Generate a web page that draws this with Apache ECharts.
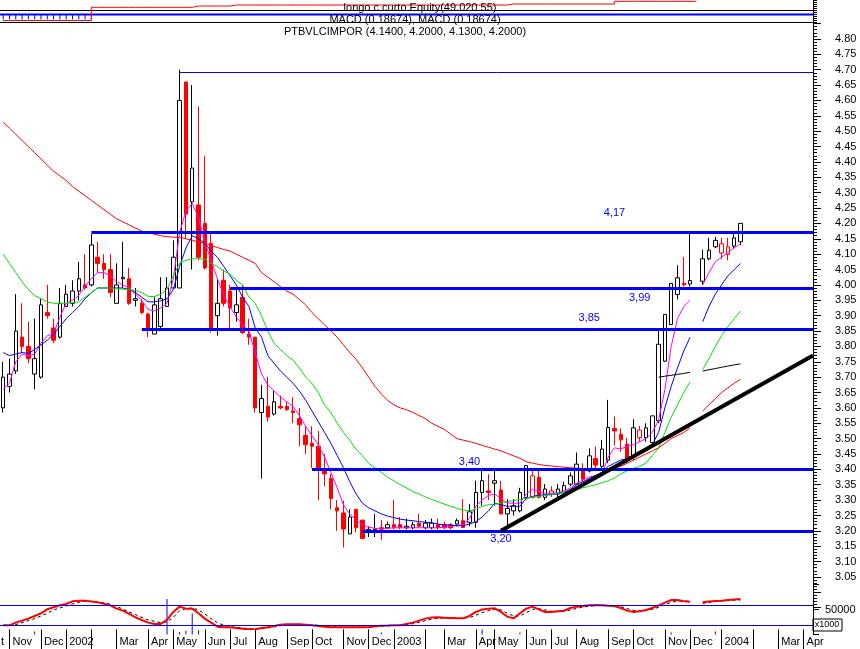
<!DOCTYPE html>
<html>
<head>
<meta charset="utf-8">
<title>PTBVLCIMPOR</title>
<script src="https://cdn.jsdelivr.net/npm/echarts@6/dist/echarts.min.js"></script>
<style>
html,body{margin:0;padding:0;background:#ffffff;}
#chart{width:860px;height:649px;}
</style>
</head>
<body>
<div id="chart"></div>
<script>
// ---------- data ----------
const firstWeek = '2001-10-26';
const slotCount = 129;

const opens = [3.60,3.67,3.72,3.83,3.80,3.71,3.70,3.91,3.86,3.83,
3.93,3.94,3.98,4.00,4.00,4.09,4.07,4.05,3.94,4.02,
4.02,3.95,3.94,3.905,3.84,3.865,3.93,3.99,3.99,4.66,
4.27,4.26,4.20,4.135,3.90,4.015,3.98,3.91,3.96,3.84,
3.83,3.585,3.605,3.58,3.605,3.605,3.59,3.565,3.51,3.485,
3.475,3.40,3.37,3.275,3.258,3.19,3.27,3.235,3.20,3.20,
3.21,3.21,3.22,3.22,3.21,3.21,3.225,3.21,3.21,3.22,
3.22,3.22,3.222,3.233,3.228,3.228,3.325,3.33,3.355,3.333,
3.255,3.265,3.265,3.309,3.309,3.374,3.309,3.32,3.32,3.325,
3.352,3.352,3.395,3.395,3.435,3.41,3.43,3.533,3.514,3.482,
3.44,3.503,3.503,3.487,3.558,3.752,3.871,3.969,4.005,4.003,
null,4.012,4.085,4.124,4.104,4.099,4.126,4.14];

const closes = [3.70,3.71,3.85,3.80,3.76,3.76,3.935,3.90,3.82,3.94,
3.97,3.98,4.02,3.99,4.13,4.07,4.05,3.975,4.00,4.025,
3.94,3.955,3.91,3.855,3.935,3.955,3.99,4.09,4.60,4.23,
4.38,4.09,4.055,3.86,3.94,3.94,3.925,3.935,3.845,3.83,
3.60,3.63,3.57,3.62,3.60,3.595,3.585,3.545,3.48,3.475,
3.40,3.385,3.305,3.265,3.206,3.245,3.21,3.175,3.205,3.205,
3.205,3.22,3.21,3.21,3.215,3.22,3.215,3.225,3.225,3.21,
3.21,3.21,3.233,3.211,3.262,3.325,3.363,3.325,3.363,3.255,
3.273,3.282,3.325,3.412,3.379,3.309,3.336,3.33,3.336,3.347,
3.379,3.417,3.368,3.444,3.414,3.466,3.536,3.525,3.496,3.433,
3.535,3.528,3.535,3.574,3.807,3.904,4.005,4.023,4.00,4.014,
null,4.085,4.113,4.145,4.134,4.124,4.153,4.20];

const lows = [3.585,3.65,3.71,3.78,3.745,3.66,3.695,3.89,3.81,3.825,
3.93,3.93,3.95,3.985,3.995,4.04,4.02,3.96,3.94,3.99,
3.935,3.93,3.905,3.83,3.84,3.86,3.93,3.99,3.99,4.15,
4.05,4.08,4.05,3.845,3.835,3.93,3.855,3.88,3.84,3.805,
3.585,3.37,3.555,3.575,3.595,3.59,3.55,3.475,3.45,3.405,
3.30,3.345,3.27,3.20,3.146,3.19,3.195,3.175,3.18,3.18,
3.17,3.205,3.205,3.205,3.205,3.205,3.21,3.205,3.205,3.20,
3.205,3.205,3.215,3.21,3.215,3.21,3.282,3.30,3.282,3.255,
3.206,3.25,3.26,3.305,3.305,3.305,3.30,3.31,3.31,3.32,
3.345,3.35,3.36,3.39,3.40,3.40,3.42,3.478,3.457,3.42,
3.43,3.49,3.49,3.48,3.55,3.75,3.87,3.953,3.995,3.995,
null,4.00,4.08,4.12,4.085,4.08,4.12,4.13];

const highs = [3.75,3.76,3.97,3.94,3.88,3.89,3.955,4.00,3.89,3.99,
4.00,4.015,4.075,4.10,4.165,4.14,4.10,4.10,4.07,4.14,
4.055,3.99,3.955,3.91,3.96,4.025,4.025,4.145,4.70,4.66,
4.65,4.58,4.42,4.17,4.02,4.05,4.00,3.985,4.00,3.89,
3.83,3.675,3.70,3.655,3.64,3.62,3.635,3.60,3.54,3.54,
3.525,3.45,3.385,3.30,3.298,3.27,3.27,3.235,3.215,3.255,
3.235,3.23,3.30,3.245,3.24,3.23,3.255,3.235,3.24,3.24,
3.23,3.225,3.24,3.303,3.287,3.363,3.40,3.384,3.395,3.363,
3.303,3.303,3.34,3.414,3.40,3.395,3.352,3.345,3.352,3.36,
3.39,3.455,3.42,3.468,3.474,3.496,3.626,3.572,3.533,3.503,
3.563,3.541,3.55,3.574,3.85,3.904,4.005,4.064,4.091,4.169,
null,4.115,4.153,4.156,4.153,4.153,4.169,4.20];

const maShort = [3.66,3.68,3.75,3.775,3.77,3.775,3.81,3.835,3.84,3.895,
3.94,3.95,3.965,3.995,4.02,4.04,4.04,4.03,4.01,4.00,
3.99,3.97,3.95,3.92,3.915,3.925,3.94,4.02,4.17,4.24,
4.265,4.22,4.14,4.08,4.02,3.965,3.93,3.895,3.87,3.85,
3.78,3.71,3.675,3.655,3.635,3.62,3.605,3.575,3.54,3.51,
3.48,3.44,3.39,3.34,3.285,3.255,3.235,3.22,3.212,3.208,
3.208,3.208,3.21,3.21,3.21,3.21,3.21,3.21,3.21,3.21,
3.212,3.215,3.218,3.22,3.24,3.28,3.30,3.315,3.32,3.305,
3.29,3.29,3.29,3.32,3.335,3.33,3.32,3.322,3.325,3.33,
3.34,3.355,3.365,3.375,3.38,3.385,3.44,3.47,3.466,3.475,
3.48,3.49,3.50,3.52,3.56,3.66,3.80,3.89,3.93,3.95,
null,4.00,4.04,4.075,4.09,4.105,4.12,4.134];

const maMid = [3.78,3.77,3.775,3.78,3.777,3.79,3.805,3.82,3.84,3.865,
3.89,3.91,3.93,3.955,3.975,3.99,3.99,3.99,3.99,3.99,
3.985,3.975,3.96,3.945,3.945,3.948,3.955,3.985,4.06,4.12,
4.16,4.15,4.135,4.11,4.09,4.06,4.03,4.00,3.96,3.93,
3.86,3.83,3.77,3.745,3.72,3.70,3.68,3.655,3.625,3.59,
3.555,3.52,3.485,3.445,3.405,3.36,3.32,3.29,3.275,3.265,
3.255,3.248,3.243,3.238,3.235,3.233,3.23,3.228,3.226,3.222,
3.22,3.218,3.216,3.217,3.222,3.23,3.245,3.265,3.29,3.285,
3.28,3.28,3.28,3.305,3.312,3.316,3.317,3.318,3.32,3.325,
3.335,3.35,3.36,3.37,3.38,3.39,3.41,3.42,3.43,3.435,
3.44,3.45,3.46,3.48,3.52,3.60,3.67,3.73,3.785,3.83,
null,3.88,3.93,3.97,4.00,4.03,4.05,4.07];

const maLong = [4.10,4.07,4.04,4.01,3.985,3.965,3.955,3.945,3.94,3.94,
3.94,3.942,3.945,3.96,3.975,3.99,3.99,3.99,3.988,3.986,
3.985,3.982,3.975,3.963,3.962,3.97,3.985,4.03,4.07,4.08,
4.085,4.085,4.083,4.07,4.06,4.045,4.035,4.015,4.00,3.96,
3.94,3.90,3.85,3.81,3.79,3.77,3.755,3.73,3.70,3.68,
3.65,3.61,3.585,3.55,3.52,3.495,3.465,3.445,3.42,3.405,
3.39,3.375,3.363,3.35,3.34,3.328,3.32,3.31,3.302,3.295,
3.287,3.28,3.273,3.268,3.265,3.27,3.28,3.285,3.287,3.29,
3.295,3.298,3.302,3.306,3.309,3.312,3.315,3.318,3.322,3.325,
3.33,3.335,3.34,3.345,3.35,3.356,3.363,3.372,3.385,3.395,
3.403,3.41,3.42,3.445,3.47,3.52,3.57,3.61,3.65,3.685,
null,3.725,3.76,3.80,3.835,3.865,3.89,3.915];

const maVeryLong = [4.53,4.51,4.49,4.47,4.45,4.43,4.41,4.39,4.37,4.355,
4.34,4.32,4.305,4.29,4.275,4.26,4.245,4.23,4.215,4.205,
4.195,4.185,4.175,4.17,4.165,4.16,4.157,4.155,4.155,4.15,
4.145,4.14,4.135,4.128,4.122,4.115,4.11,4.10,4.09,4.08,
4.07,4.04,4.025,4.01,3.995,3.98,3.97,3.953,3.935,3.91,
3.89,3.87,3.85,3.83,3.805,3.78,3.758,3.73,3.70,3.67,
3.645,3.625,3.61,3.60,3.594,3.585,3.575,3.565,3.55,3.54,
3.53,3.515,3.50,3.495,3.49,3.485,3.478,3.472,3.466,3.46,
3.452,3.444,3.436,3.425,3.42,3.416,3.413,3.411,3.409,3.407,
3.405,3.404,3.402,3.40,3.40,3.40,3.402,3.405,3.41,3.42,
3.43,3.44,3.45,3.46,3.47,3.485,3.50,3.51,3.52,3.535,
null,3.59,3.61,3.63,3.65,3.665,3.68,3.693];

const maBlack = [null,null,null,null,null,null,null,null,null,null,
null,null,null,null,null,null,null,null,null,null,
null,null,null,null,null,null,null,null,null,null,
null,null,null,null,null,null,null,null,null,null,
null,null,null,null,null,null,null,null,null,null,
null,null,null,null,null,null,null,null,null,null,
null,null,null,null,null,null,null,null,null,null,
null,null,null,null,null,null,null,null,null,null,
null,null,null,null,null,null,null,null,null,null,
null,null,null,null,null,null,null,null,null,null,
null,null,null,null,3.700,3.703,3.706,3.709,3.712,3.716,
null,3.720,3.724,3.728,3.732,3.736,3.740,3.743];

const macd = [0.0,0.0,0.02,0.035,0.05,0.07,0.09,0.12,0.135,0.15,
0.16,0.18,0.185,0.185,0.178,0.172,0.162,0.15,0.125,0.11,
0.085,0.06,0.04,0.02,0.01,0.01,0.04,0.10,0.14,0.125,
0.125,0.09,0.05,0.02,-0.01,-0.015,-0.015,-0.02,-0.025,-0.03,
-0.03,-0.02,-0.015,-0.005,0.005,0.0075,0.0075,0.0075,0.005,0.0,
-0.005,-0.01,-0.015,-0.015,-0.015,-0.015,-0.015,-0.015,-0.012,-0.008,
-0.003,-0.002,0.0,0.0,0.01,0.02,0.035,0.05,0.058,0.06,
0.057,0.055,0.053,0.052,0.07,0.10,0.118,0.125,0.127,0.10,
0.065,0.052,0.09,0.125,0.14,0.12,0.10,0.10,0.105,0.11,
0.13,0.14,0.145,0.15,0.152,0.15,0.147,0.145,0.13,0.11,
0.10,0.105,0.115,0.13,0.15,0.17,0.19,0.19,0.18,0.177,
null,0.172,0.178,0.183,0.185,0.19,0.194,0.197];

const macdSignal = [0.0,0.0,0.005,0.02,0.035,0.05,0.07,0.09,0.115,0.13,
0.145,0.16,0.172,0.18,0.18,0.175,0.168,0.158,0.14,0.122,
0.10,0.08,0.06,0.04,0.03,0.02,0.025,0.06,0.11,0.125,
0.13,0.115,0.085,0.05,0.02,0.0,-0.01,-0.015,-0.02,-0.025,
-0.028,-0.025,-0.02,-0.012,-0.003,0.003,0.006,0.007,0.006,0.003,
0.0,-0.005,-0.01,-0.013,-0.015,-0.015,-0.015,-0.015,-0.014,-0.011,
-0.007,-0.004,-0.002,0.0,0.005,0.012,0.022,0.035,0.045,0.052,
0.055,0.055,0.054,0.053,0.058,0.075,0.095,0.11,0.12,0.115,
0.09,0.07,0.07,0.095,0.12,0.125,0.115,0.105,0.102,0.105,
0.115,0.127,0.137,0.143,0.148,0.15,0.149,0.147,0.14,0.125,
0.112,0.107,0.11,0.12,0.135,0.155,0.172,0.182,0.183,0.18,
null,0.165,0.172,0.178,0.182,0.185,0.188,0.19];
const macdBands = [0, 0.15];

// volume in thousands (only visible bars)
const volumeIdx = [5,18,26,28,29,30,31,60,76,82,100,106,113];
const volumeVal = [6000,6000,71000,5000,8000,42000,8000,4000,10000,4000,6000,4000,6000];

// month dividers on the time axis
const monthIdx = [1,6,10,14,18,23,27,32,36,40,45,49,54,58,62,67,70,75,78,83,87,91,96,100,105,109,114,119,123,127];
const monthText = ['Nov','Dec','2002','','Mar','Apr','May','Jun','Jul','Aug','Sep','Oct','Nov','Dec','2003','','Mar','Apr','May','Jun','Jul','Aug','Sep','Oct','Nov','Dec','2004','','Mar','Apr'];

// horizontal support / resistance levels
const levelStart = [14, 36, 22, 49, 57];
const levelValue = [4.17, 3.99, 3.855, 3.40, 3.20];
const levelText = ['4,17', '3,99', '3,85', '3,40', '3,20'];
const levelLabelAt = [[97, 4.234], [101, 3.957], [93, 3.892], [74, 3.424], [79, 3.173]];
const peakStart = 28, peakValue = 4.69;
const trendStart = [79, 3.20], trendEndValue = 3.77;

// header mini panel (longo c curto Equity), 0..22 scale
const hdrSteps = [1.5,1.5,1.5,1.5,1.5,1.5,1.5,1.5,1.5,1.5,1.5,1.5,1.5,1.5,
14.7,14.7,14.7,14.7,14.7,14.7,14.7,14.7,14.7,14.7,14.7,14.7,14.7,14.7,14.7,14.7,
16,16,16,16,16,16,
17,17,17,17,17,17,17,17,17,17,17,17,17,17,17,17,17,17,17,17,17,17,17,17,17,17,17,17,17,17,17,17,17,17,17,17,17,17,17,17,17,17,17,17,
18,18,18,18,18,18,18,18,18,18,18,18,18,18,18,18,18,
20.7,20.7,20.7,20.7,20.7,20.7,20.7,20.7,20.7,20.7,20.7,20.7,20.7,20.7];
const hdrBands = [12, 7.7];
const hdrCombBase = [2.5,2.5,2.5,2.5,2.5,2.5,2.5,2.5,2.5,2.5,2.5,2.5,2.5,2.5,2.5];
const hdrCombTop = [7.7,7.7,7.7,7.7,7.7,7.7,7.7,7.7,7.7,7.7,7.7,7.7,7.7,7.7,7.7];

// ---------- build ----------
const cats = [];
{
  const d0 = new Date(firstWeek + 'T00:00:00Z');
  for (let i = 0; i < slotCount; i++) {
    const d = new Date(d0.getTime() + i * 7 * 86400000);
    cats.push(d.toISOString().slice(0, 10));
  }
}
const monthMap = {};
monthIdx.forEach((k, j) => { monthMap[k] = monthText[j]; });

const RED = '#ff0000', BLK = '#000000', BLUE = '#0000ff';
const candleData = opens.map((o, i) => {
  if (o == null) return '-';
  const c = closes[i];
  let prev = null;
  for (let k = i - 1; k >= 0; k--) { if (closes[k] != null) { prev = closes[k]; break; } }
  const filled = c < o;
  const isRed = filled || (prev != null && c < prev);
  const col = isRed ? RED : BLK;
  const fill = filled ? col : '#ffffff';
  return { value: [o, c, lows[i], highs[i]],
    itemStyle: { color: fill, color0: fill, borderColor: col, borderColor0: col } };
});

const volumeData = new Array(slotCount).fill(0);
volumeIdx.forEach((k, j) => { volumeData[k] = volumeVal[j]; });

const FONT = '"Liberation Sans", Arial, sans-serif';
const W = 813; // plot width (right axis line)

const chart = echarts.init(document.getElementById('chart'), null, { renderer: 'canvas' });

const option = {
  animation: false,
  backgroundColor: '#ffffff',
  textStyle: { fontFamily: FONT },
  grid: [
    { left: 0, width: W, top: 0, height: 22 },
    { left: 0, width: W, top: 23.6, height: 584.1 },
    { left: 0, width: W, top: 597.3, height: 32 },
    { left: 0, width: W, top: 584.5, height: 50 }
  ],
  xAxis: [
    { gridIndex: 0, type: 'category', data: cats, show: true,
      axisLine: { show: true, onZero: false, lineStyle: { color: BLK, width: 1 } },
      axisTick: { show: false }, axisLabel: { show: false } },
    { gridIndex: 1, type: 'category', data: cats, show: false },
    { gridIndex: 2, type: 'category', data: cats, position: 'bottom',
      axisLine: { show: false, onZero: false },
      axisTick: { show: true, alignWithLabel: true, length: 20,
        interval: (idx) => monthMap[idx] !== undefined,
        lineStyle: { color: BLK, width: 1 } },
      axisLabel: { show: true, interval: (idx) => monthMap[idx] !== undefined && monthMap[idx] !== '',
        formatter: (val, idx) => monthMap[idx] || '',
        align: 'left', margin: 7, padding: [0, 0, 0, 3],
        color: BLK, fontSize: 11, fontFamily: FONT },
      splitLine: { show: false } },
    { gridIndex: 3, type: 'category', data: cats, show: false }
  ],
  yAxis: [
    { gridIndex: 0, type: 'value', position: 'right', min: 0, max: 22, interval: 2,
      axisLine: { show: true, lineStyle: { color: BLK } },
      axisTick: { show: true, length: 4, lineStyle: { color: BLK } },
      axisLabel: { show: false }, splitLine: { show: false } },
    { gridIndex: 1, type: 'value', position: 'right', min: 2.95, max: 4.85, interval: 0.05,
      axisLine: { show: true, lineStyle: { color: BLK, width: 1 } },
      axisTick: { show: true, length: 8, lineStyle: { color: BLK } },
      minorTick: { show: true, splitNumber: 5, length: 4, lineStyle: { color: BLK } },
      axisLabel: { show: true, margin: 22, color: BLK, fontSize: 11, fontFamily: FONT,
        formatter: (v) => (v > 4.801 || v < 3.049) ? '' : v.toFixed(2) },
      splitLine: { show: false } },
    { gridIndex: 2, type: 'value', min: -0.03, max: 0.21, show: false },
    { gridIndex: 3, type: 'value', position: 'right', min: 0, max: 100000, interval: 50000,
      axisLine: { show: true, lineStyle: { color: BLK } },
      axisTick: { show: true, length: 6, lineStyle: { color: BLK } },
      axisLabel: { show: true, margin: 12, color: BLK, fontSize: 11, fontFamily: FONT,
        formatter: (v) => v === 50000 ? '50000' : '' },
      splitLine: { show: false } }
  ],
  series: [
    { name: 'hdr', type: 'line', xAxisIndex: 0, yAxisIndex: 0, data: hdrSteps, step: 'end',
      symbol: 'none', lineStyle: { color: RED, width: 1 }, z: 3 },
    { name: 'hdrBase', type: 'bar', xAxisIndex: 0, yAxisIndex: 0, data: hdrCombBase, stack: 'comb',
      barWidth: 1, itemStyle: { color: 'rgba(0,0,0,0)' } },
    { name: 'hdrComb', type: 'bar', xAxisIndex: 0, yAxisIndex: 0, stack: 'comb', barWidth: 1,
      data: hdrCombTop.map((t, i) => t - hdrCombBase[i]), itemStyle: { color: BLUE } },
    { name: 'price', type: 'candlestick', xAxisIndex: 1, yAxisIndex: 1, data: candleData,
      barWidth: 4, z: 2 },
    { name: 'ma1', type: 'line', xAxisIndex: 1, yAxisIndex: 1, data: maShort, symbol: 'none', z: 3,
      lineStyle: { color: '#ff00ff', width: 1 } },
    { name: 'ma2', type: 'line', xAxisIndex: 1, yAxisIndex: 1, data: maMid, symbol: 'none', z: 3,
      lineStyle: { color: '#0000ff', width: 1 } },
    { name: 'ma3', type: 'line', xAxisIndex: 1, yAxisIndex: 1, data: maLong, symbol: 'none', z: 3,
      lineStyle: { color: '#00e000', width: 1 } },
    { name: 'ma4', type: 'line', xAxisIndex: 1, yAxisIndex: 1, data: maVeryLong, symbol: 'none', z: 3,
      lineStyle: { color: '#ff0000', width: 1 } },
    { name: 'ma5', type: 'line', xAxisIndex: 1, yAxisIndex: 1, data: maBlack, symbol: 'none', z: 3,
      lineStyle: { color: '#000000', width: 1 } },
    { name: 'vol', type: 'bar', xAxisIndex: 3, yAxisIndex: 3, data: volumeData, barWidth: 1,
      itemStyle: { color: BLUE } },
    { name: 'macd', type: 'line', xAxisIndex: 2, yAxisIndex: 2, data: macd, symbol: 'none', z: 4,
      lineStyle: { color: RED, width: 2 } },
    { name: 'signal', type: 'line', xAxisIndex: 2, yAxisIndex: 2, data: macdSignal, symbol: 'none', z: 3,
      lineStyle: { color: BLK, width: 1, type: [3, 3] },
      markLine: { silent: true, symbol: 'none', label: { show: false }, z: 1,
        lineStyle: { color: BLUE, width: 1, type: 'solid' },
        data: macdBands.map(v => ({ yAxis: v })) } }
  ]
};
chart.setOption(option);

// positions derived from the axes' scales
const toPx = (p) => chart.convertToPixel({ xAxisIndex: 1, yAxisIndex: 1 }, p);
const toMacdPx = (p) => chart.convertToPixel({ xAxisIndex: 2, yAxisIndex: 2 }, p);
const toHdrPx = (p) => chart.convertToPixel({ xAxisIndex: 0, yAxisIndex: 0 }, p);

const markData = [];
levelValue.forEach((v, j) => {
  markData.push([ { coord: [levelStart[j], v], lineStyle: { color: BLUE, width: 3, type: 'solid' } },
                  { x: W, y: toPx([0, v])[1] } ]);
});
markData.push([ { coord: trendStart, lineStyle: { color: BLK, width: 4, type: 'solid' } },
                { x: W, y: toPx([0, trendEndValue])[1] } ]);

const crisp = (y) => Math.round(y - 0.5) + 0.5;
const graphics = [];
// thin blue line at the peak high
{
  const p = toPx([peakStart, peakValue]);
  graphics.push({ type: 'line', z: 15, shape: { x1: p[0], y1: crisp(p[1]), x2: W, y2: crisp(p[1]) },
    style: { stroke: BLUE, lineWidth: 1 } });
}
// MACD reference bands
macdBands.forEach(v => {
  const py = crisp(toMacdPx([1, v])[1]);
  graphics.push({ type: 'line', z: 30, shape: { x1: 0, y1: py, x2: W, y2: py }, style: { stroke: BLUE, lineWidth: 1 } });
});
// header panel bands
{
  const pb = crisp(toHdrPx([0, hdrBands[1]])[1]);
  graphics.push({ type: 'line', z: 2, shape: { x1: 0, y1: pb, x2: W, y2: pb }, style: { stroke: BLUE, lineWidth: 2 } });
  const pk = crisp(toHdrPx([0, hdrBands[0]])[1]);
  graphics.push({ type: 'line', z: 2, shape: { x1: 0, y1: pk, x2: W, y2: pk }, style: { stroke: BLK, lineWidth: 1 } });
}
levelLabelAt.forEach((p, j) => {
  const px = toPx(p);
  graphics.push({ type: 'text', x: px[0], y: px[1], z: 20,
    style: { text: levelText[j], fill: BLUE, font: '11px ' + FONT, textAlign: 'center', textVerticalAlign: 'middle' } });
});
graphics.push({ type: 'text', x: 420, y: 8, z: 20, style: { text: 'longo c curto Equity(49.020.55)', fill: BLK, font: '11px ' + FONT, textAlign: 'center', textVerticalAlign: 'middle' } });
graphics.push({ type: 'text', x: 415, y: 20, z: 20, style: { text: 'MACD (0.18674), MACD (0.18674)', fill: BLK, font: '11px ' + FONT, textAlign: 'center', textVerticalAlign: 'middle' } });
graphics.push({ type: 'text', x: 405, y: 32, z: 20, style: { text: 'PTBVLCIMPOR (4.1400, 4.2000, 4.1300, 4.2000)', fill: BLK, font: '11px ' + FONT, textAlign: 'center', textVerticalAlign: 'middle' } });
graphics.push({ type: 'text', x: 4, y: 642, z: 20, style: { text: 't', fill: BLK, font: '11px ' + FONT, textAlign: 'right', textVerticalAlign: 'middle' } });
graphics.push({ type: 'text', x: 827, y: 625, z: 20, style: { text: 'x1000', fill: BLK, font: '9px ' + FONT, textAlign: 'center', textVerticalAlign: 'middle' } });
graphics.push({ type: 'rect', shape: { x: 813, y: 619, width: 29, height: 12 }, z: 19, style: { fill: 'none', stroke: BLK, lineWidth: 1 } });

chart.setOption({
  series: [ {}, {}, {}, { markLine: { silent: true, symbol: 'none', label: { show: false }, z: 10,
                 lineStyle: { color: BLUE, width: 1, type: 'solid' }, data: markData } } ],
  graphic: graphics
});
</script>
</body>
</html>
